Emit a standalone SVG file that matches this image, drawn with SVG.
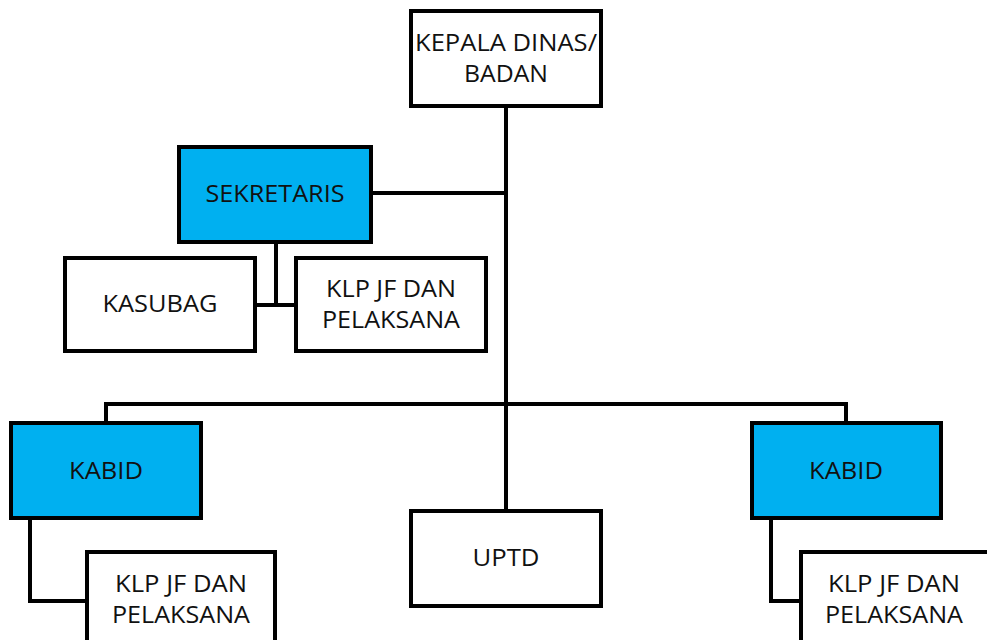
<svg xmlns="http://www.w3.org/2000/svg" width="987" height="640" viewBox="0 0 987 640">
<style>
.box{fill:#ffffff;stroke:#000;stroke-width:4}
.blue{fill:#00B0F0;stroke:#000;stroke-width:4}
.ln{fill:none;stroke:#000;stroke-width:4}
text{font-family:"Open Sans","DejaVu Sans",sans-serif;font-size:24px;fill:#111;text-anchor:middle}
</style>
<rect width="987" height="640" fill="#fff"/>
<g id="connectors">
<path class="ln" d="M506 108V509"/>
<path class="ln" d="M373 193H506"/>
<path class="ln" d="M106 421V404H846V421"/>
<path class="ln" d="M276 244V305"/>
<path class="ln" d="M257 305H294"/>
<path class="ln" d="M30 520V601H85"/>
<path class="ln" d="M771 520V601H799"/>
</g>
<g id="kepala"><rect class="box" x="411" y="11" width="190" height="95"/><text x="506" y="51" textLength="182" lengthAdjust="spacingAndGlyphs">KEPALA DINAS/</text><text x="506" y="82" textLength="84" lengthAdjust="spacingAndGlyphs">BADAN</text></g>
<g id="sekretaris"><rect class="blue" x="179" y="147" width="192" height="95"/><text x="275" y="202" textLength="139" lengthAdjust="spacingAndGlyphs">SEKRETARIS</text></g>
<g id="kasubag"><rect class="box" x="65" y="258" width="190" height="93"/><text x="160" y="312" textLength="115" lengthAdjust="spacingAndGlyphs">KASUBAG</text></g>
<g id="klp-sek"><rect class="box" x="296" y="258" width="190" height="93"/><text x="391" y="297" textLength="130" lengthAdjust="spacingAndGlyphs">KLP JF DAN</text><text x="391" y="328" textLength="138" lengthAdjust="spacingAndGlyphs">PELAKSANA</text></g>
<g id="kabid-left"><rect class="blue" x="11" y="423" width="190" height="95"/><text x="106" y="479" textLength="74" lengthAdjust="spacingAndGlyphs">KABID</text></g>
<g id="kabid-right"><rect class="blue" x="752" y="423" width="189" height="95"/><text x="846" y="479" textLength="74" lengthAdjust="spacingAndGlyphs">KABID</text></g>
<g id="uptd"><rect class="box" x="411" y="511" width="190" height="95"/><text x="506" y="566" textLength="67" lengthAdjust="spacingAndGlyphs">UPTD</text></g>
<g id="klp-left"><rect class="box" x="87" y="552" width="188" height="95"/><text x="181" y="592" textLength="132" lengthAdjust="spacingAndGlyphs">KLP JF DAN</text><text x="181" y="623" textLength="138" lengthAdjust="spacingAndGlyphs">PELAKSANA</text></g>
<g id="klp-right"><rect class="box" x="801" y="552" width="190" height="95"/><text x="894" y="592" textLength="132" lengthAdjust="spacingAndGlyphs">KLP JF DAN</text><text x="894" y="623" textLength="138" lengthAdjust="spacingAndGlyphs">PELAKSANA</text></g>
</svg>
